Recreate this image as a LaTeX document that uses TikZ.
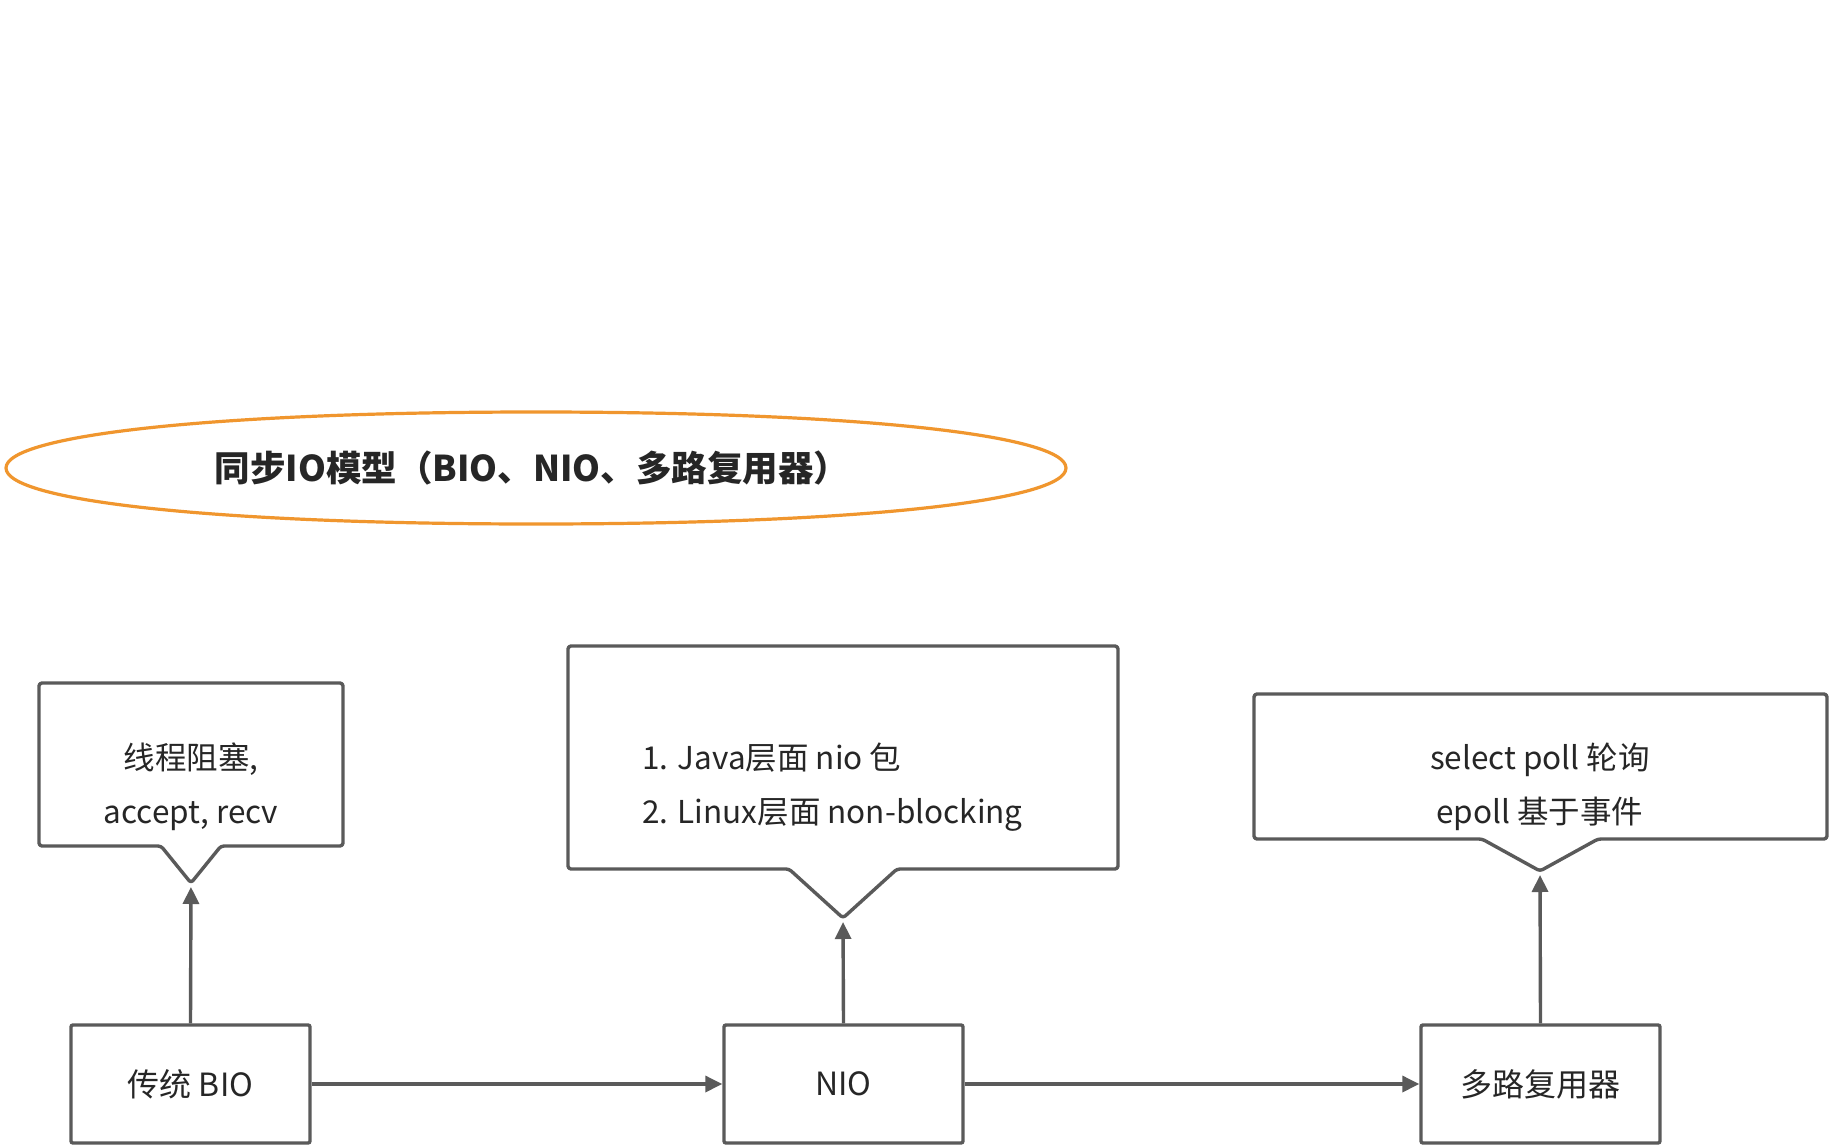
\documentclass[tikz,border=0pt]{standalone}
\usepackage{fontspec}
\setmainfont{Noto Sans CJK SC}
\usetikzlibrary{arrows.meta}
\definecolor{linegray}{HTML}{5A5A5A}
\definecolor{txtgray}{HTML}{262626}
\definecolor{orangeline}{HTML}{F0962E}
\tikzset{
  shapeline/.style={draw=linegray, line width=3.4pt, rounded corners=3pt, line join=round},
  boxnode/.style={draw=linegray, line width=3.4pt, rounded corners=2pt, minimum width=239pt, minimum height=118pt, inner sep=0pt, text=txtgray, font=\fontsize{32}{38}\selectfont},
  calltext/.style={text=txtgray, font=\fontsize{31.5}{54}\selectfont, inner sep=0pt},
  conn/.style={draw=linegray, line width=3.4pt, -{Triangle[length=17pt,width=16pt]}},
}
\begin{document}
\begin{tikzpicture}[x=1pt,y=-1pt]
\useasboundingbox (0,0) rectangle (1834,1148);
\fill[white] (0,0) rectangle (1834,1148);

% title ellipse
\draw[draw=orangeline, line width=3.2pt]
  (6,468) .. controls (6,435) and (215,412) .. (536,412)
          .. controls (857,412) and (1066,435) .. (1066,468)
          .. controls (1066,501) and (857,524) .. (536,524)
          .. controls (215,524) and (6,501) .. (6,468) -- cycle;
\node[text=txtgray, font=\fontsize{35.5}{42}\selectfont\bfseries] (titletext) at (532,468) {同步IO模型（BIO、NIO、多路复用器）};

% callouts
\draw[shapeline] (39,683) -- (343,683) -- (343,846) -- (221,846) -- (191,883) -- (161,846) -- (39,846) -- cycle;
\coordinate (tip1) at (191,883);
\node[calltext, align=center] (c1) at (191,787) {线程阻塞,\\accept, recv};

\draw[shapeline] (568,646) -- (1118,646) -- (1118,869) -- (897,869) -- (843,918) -- (789,869) -- (568,869) -- cycle;
\coordinate (tip2) at (843,918);
\node[calltext, align=left, anchor=west] (c2) at (642,787) {1. Java层面 nio 包\\2. Linux层面 non-blocking};

\draw[shapeline] (1254,694) -- (1827,694) -- (1827,839) -- (1598,839) -- (1540,871) -- (1482,839) -- (1254,839) -- cycle;
\coordinate (tip3) at (1540,871);
\node[calltext, align=center] (c3) at (1540,787) {select poll 轮询\\epoll 基于事件};

% bottom boxes
\node[boxnode] (bio) at (190.5,1084) {传统 BIO};
\node[boxnode] (nio) at (843.5,1084) {NIO};
\node[boxnode] (mux) at (1540.5,1084) {多路复用器};

% connectors
\draw[conn] (bio.east) -- (nio.west);
\draw[conn] (nio.east) -- (mux.west);
\draw[conn, shorten >=4pt] (bio.north) -- (tip1);
\draw[conn, shorten >=4pt] (nio.north) -- (tip2);
\draw[conn, shorten >=4pt] (mux.north) -- (tip3);
\end{tikzpicture}
\end{document}
